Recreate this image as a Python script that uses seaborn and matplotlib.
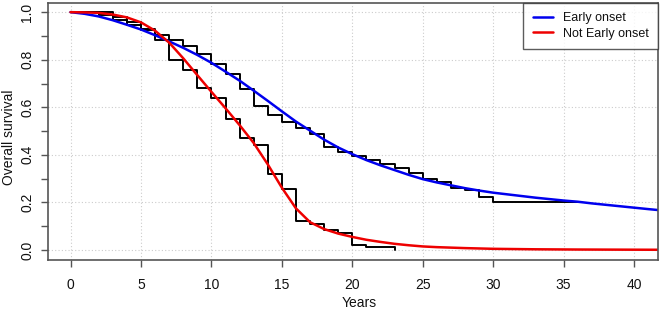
import matplotlib
matplotlib.use("Agg")
import matplotlib.pyplot as plt
import seaborn as sns
import pandas as pd

# Kaplan-Meier steps (black)
early_km_t = [0, 2, 3, 4, 5, 6, 7, 8, 9, 10, 11, 12, 13, 14, 15, 16, 17, 18, 19, 20,
              21, 22, 23, 24, 25, 26, 27, 28, 29, 30, 36]
early_km_s = [1.000, 0.987, 0.965, 0.945, 0.924, 0.906, 0.885, 0.857, 0.825, 0.783, 0.738,
              0.678, 0.607, 0.569, 0.538, 0.513, 0.487, 0.434, 0.414, 0.395,
              0.377, 0.360, 0.343, 0.325, 0.300, 0.287, 0.259, 0.252, 0.221, 0.203, 0.203]

late_km_t = [0, 3, 4, 5, 6, 7, 8, 9, 10, 11, 12, 13, 14, 15, 16, 17, 18, 19, 20, 21, 23]
late_km_s = [1.000, 0.980, 0.960, 0.930, 0.882, 0.800, 0.756, 0.680, 0.638, 0.550, 0.472,
             0.442, 0.321, 0.256, 0.121, 0.109, 0.083, 0.070, 0.023, 0.014, 0.000]

# fitted curves
early_fit_t = [0, 1, 2, 3, 4, 5, 6, 7, 8, 9, 10, 11, 12, 13, 14, 15, 16, 17, 18, 19, 20,
               21, 22, 23, 24, 25, 26, 27, 28, 29, 30, 31, 32, 33, 34, 35, 36, 37, 38,
               39, 40, 41, 41.7]
early_fit_s = [1.000, 0.993, 0.982, 0.966, 0.947, 0.927, 0.903, 0.877, 0.850, 0.820, 0.787,
               0.750, 0.712, 0.670, 0.627, 0.583, 0.540, 0.502, 0.464, 0.431, 0.403,
               0.378, 0.356, 0.336, 0.316, 0.298, 0.284, 0.272, 0.260, 0.250, 0.241,
               0.234, 0.227, 0.220, 0.214, 0.208, 0.203, 0.196, 0.190, 0.184, 0.178,
               0.172, 0.168]

late_fit_t = [0, 1, 2, 3, 4, 5, 6, 7, 8, 9, 10, 11, 12, 13, 14, 15, 16, 17, 18, 19, 20,
              21, 22, 23, 24, 25, 26, 28, 30, 33, 36, 41.7]
late_fit_s = [1.000, 0.999, 0.997, 0.990, 0.978, 0.957, 0.922, 0.872, 0.806, 0.735, 0.665,
              0.596, 0.525, 0.450, 0.360, 0.262, 0.175, 0.117, 0.088, 0.069, 0.055,
              0.043, 0.034, 0.026, 0.020, 0.015, 0.012, 0.008, 0.005, 0.003, 0.002, 0.001]

x_ticks = [0, 5, 10, 15, 20, 25, 30, 35, 40]
y_ticks = [0.0, 0.2, 0.4, 0.6, 0.8, 1.0]
y_minor = [0.1, 0.3, 0.5, 0.7, 0.9]
labels = ["Early onset", "Not Early onset"]

sns.set_style("white")
plt.rcParams["font.family"] = ["Liberation Sans", "DejaVu Sans"]
plt.rcParams["text.color"] = "#111111"

early_km = pd.DataFrame({"t": early_km_t, "s": early_km_s})
late_km = pd.DataFrame({"t": late_km_t, "s": late_km_s})
early_fit = pd.DataFrame({"t": early_fit_t, "s": early_fit_s})
late_fit = pd.DataFrame({"t": late_fit_t, "s": late_fit_s})

fig = plt.figure(figsize=(6.61, 3.11), dpi=100)
ax = fig.add_axes([0.0726, 0.164, 0.9229, 0.826])

for yv in y_ticks:
    ax.axhline(yv, color="#cccccc", ls=(0, (1, 2)), lw=0.8, zorder=0)
for xv in x_ticks:
    ax.axvline(xv, color="#cccccc", ls=(0, (1, 2)), lw=0.8, zorder=0)

sns.lineplot(data=early_km, x="t", y="s", drawstyle="steps-post", color="black",
             lw=1.4, ax=ax, legend=False, estimator=None)
sns.lineplot(data=late_km, x="t", y="s", drawstyle="steps-post", color="black",
             lw=1.4, ax=ax, legend=False, estimator=None)
sns.lineplot(data=early_fit, x="t", y="s", color="#0000ee", lw=1.8, ax=ax,
             label=labels[0], estimator=None)
sns.lineplot(data=late_fit, x="t", y="s", color="#ee0000", lw=1.8, ax=ax,
             label=labels[1], estimator=None)

ax.set_xlim(-1.6, 41.7)
ax.set_ylim(-0.042, 1.038)
ax.set_xticks(x_ticks)
ax.set_xticklabels([str(v) for v in x_ticks], fontsize=10, color="#111111")
ax.set_yticks(y_ticks)
ax.set_yticklabels([f"{v:.1f}" for v in y_ticks], fontsize=10, rotation=90, va="center",
                   color="#111111")
ax.set_yticks(y_minor, minor=True)
ax.tick_params(axis="both", which="both", direction="out", length=5, width=1,
               color="#555555", left=True, bottom=True)
ax.tick_params(axis="x", pad=8)
ax.tick_params(axis="y", pad=5)
for sp in ax.spines.values():
    sp.set_color("#555555")
    sp.set_linewidth(1.2)
ax.set_xlabel("")
ax.set_ylabel("")
fig.text(0.543, 0.025, "Years", ha="center", va="center", fontsize=10)
fig.text(0.013, 0.56, "Overall survival", ha="center", va="center", rotation=90, fontsize=10)

leg = ax.legend(loc="upper right", fontsize=9, frameon=True, fancybox=False,
                borderaxespad=0, handlelength=1.6, handletextpad=0.8,
                labelspacing=0.25, borderpad=0.75)
leg.get_frame().set_edgecolor("#333333")
leg.get_frame().set_linewidth(1.0)

fig.savefig("out.png", dpi=100)
